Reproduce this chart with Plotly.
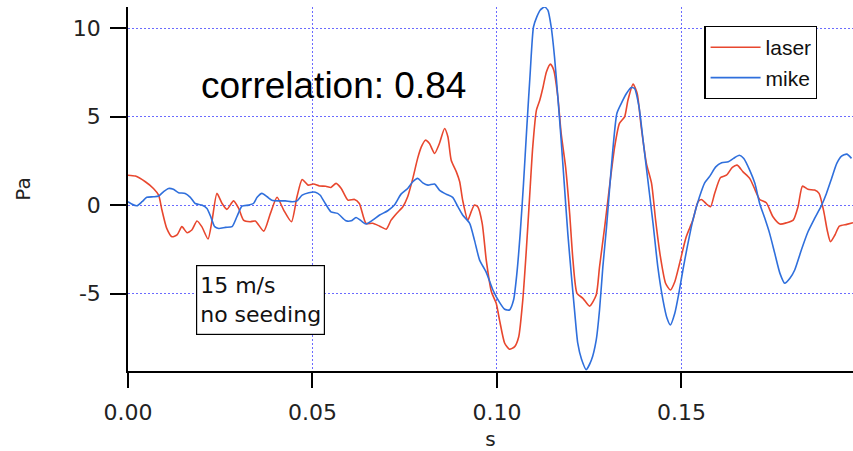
import plotly.graph_objects as go

# ---- data (time in s, pressure in Pa) ----
laser_t = [0.0000, 0.0020, 0.0047, 0.0069, 0.0083, 0.0092, 0.0105, 0.0119, 0.0133, 0.0146,
           0.0160, 0.0173, 0.0187, 0.0200, 0.0217, 0.0228, 0.0241, 0.0255, 0.0268, 0.0286,
           0.0300, 0.0313, 0.0331, 0.0345, 0.0368, 0.0386, 0.0404, 0.0422, 0.0443, 0.0458,
           0.0472, 0.0488, 0.0503, 0.0519, 0.0536, 0.0550, 0.0564, 0.0578, 0.0596, 0.0614,
           0.0627, 0.0645, 0.0663, 0.0682, 0.0700, 0.0713, 0.0728, 0.0745, 0.0758, 0.0772,
           0.0785, 0.0795, 0.0806, 0.0817, 0.0831, 0.0844, 0.0858, 0.0867, 0.0876, 0.0890,
           0.0899, 0.0907, 0.0921, 0.0930, 0.0939, 0.0948, 0.0960, 0.0971, 0.0985, 0.0998,
           0.1007, 0.1021, 0.1034, 0.1048, 0.1059, 0.1070, 0.1079, 0.1088, 0.1097, 0.1107,
           0.1116, 0.1125, 0.1134, 0.1145, 0.1154, 0.1165, 0.1174, 0.1186, 0.1197, 0.1206,
           0.1217, 0.1233, 0.1251, 0.1269, 0.1278, 0.1292, 0.1305, 0.1319, 0.1332, 0.1346,
           0.1355, 0.1369, 0.1380, 0.1391, 0.1405, 0.1419, 0.1430, 0.1443, 0.1457, 0.1470,
           0.1482, 0.1495, 0.1513, 0.1531, 0.1545, 0.1554, 0.1568, 0.1579, 0.1590, 0.1606,
           0.1622, 0.1638, 0.1651, 0.1667, 0.1685, 0.1699, 0.1712, 0.1730, 0.1748, 0.1767,
           0.1785, 0.1803, 0.1816, 0.1828, 0.1843, 0.1861, 0.1873, 0.1886, 0.1895, 0.1904,
           0.1916, 0.1928, 0.1948, 0.1965]
laser_pa = [1.69, 1.64, 1.32, 0.94, 0.56, -0.28, -1.32, -1.79, -1.69, -1.22,
            -1.56, -1.41, -0.90, -1.22, -1.92, -0.85, 0.66, 0.09, -0.24, 0.24,
            -0.19, -0.85, -0.94, -0.90, -1.47, -0.47, 0.44, -0.28, -0.94, 0.47,
            1.45, 1.13, 1.19, 1.08, 1.07, 1.00, 1.23, 0.94, 0.28, 0.32,
            0.09, -1.03, -1.03, -1.19, -1.36, -0.85, -0.47, -0.09, 0.47, 1.51,
            2.64, 3.29, 3.67, 3.48, 2.92, 3.48, 4.33, 3.86, 2.54, 1.88,
            1.32, 0.28, -0.85, -0.38, 0.00, -0.09, -1.03, -3.11, -4.90, -5.55,
            -6.50, -7.81, -8.15, -8.00, -7.44, -5.37, -2.73, 0.28, 3.29, 5.37,
            5.93, 6.68, 7.53, 7.97, 7.63, 6.12, 4.05, 2.16, -0.47, -3.11,
            -4.99, -5.27, -5.71, -5.08, -3.49, -1.23, 1.03, 3.29, 4.62, 4.99,
            5.93, 6.84, 6.31, 4.42, 2.36, 1.23, -0.85, -2.92, -4.42, -4.80,
            -4.33, -3.30, -1.79, -0.85, 0.19, 0.32, 0.06, -0.09, 0.66, 1.56,
            1.69, 2.13, 2.26, 1.88, 1.51, 0.89, 0.32, 0.13, -0.66, -1.07,
            -1.00, -0.85, -0.09, 1.07, 0.89, 0.85, 0.66, -0.38, -1.41, -2.07,
            -1.69, -1.19, -1.09, -1.00]

mike_t = [0.0000, 0.0010, 0.0024, 0.0038, 0.0051, 0.0069, 0.0083, 0.0096, 0.0110, 0.0123,
          0.0137, 0.0155, 0.0169, 0.0182, 0.0200, 0.0214, 0.0226, 0.0235, 0.0246, 0.0264,
          0.0282, 0.0295, 0.0309, 0.0327, 0.0340, 0.0350, 0.0363, 0.0377, 0.0390, 0.0408,
          0.0426, 0.0445, 0.0458, 0.0472, 0.0490, 0.0508, 0.0521, 0.0533, 0.0550, 0.0568,
          0.0591, 0.0605, 0.0618, 0.0632, 0.0645, 0.0663, 0.0682, 0.0704, 0.0722, 0.0740,
          0.0758, 0.0772, 0.0785, 0.0799, 0.0813, 0.0831, 0.0844, 0.0862, 0.0880, 0.0894,
          0.0907, 0.0926, 0.0939, 0.0953, 0.0971, 0.0989, 0.1007, 0.1021, 0.1034, 0.1045,
          0.1054, 0.1063, 0.1072, 0.1081, 0.1090, 0.1099, 0.1108, 0.1117, 0.1129, 0.1138,
          0.1147, 0.1156, 0.1165, 0.1174, 0.1183, 0.1192, 0.1202, 0.1211, 0.1219, 0.1229,
          0.1242, 0.1256, 0.1269, 0.1278, 0.1287, 0.1297, 0.1305, 0.1314, 0.1325, 0.1337,
          0.1351, 0.1364, 0.1373, 0.1385, 0.1396, 0.1409, 0.1423, 0.1436, 0.1450, 0.1461,
          0.1470, 0.1482, 0.1493, 0.1504, 0.1515, 0.1531, 0.1549, 0.1563, 0.1577, 0.1593,
          0.1609, 0.1627, 0.1641, 0.1657, 0.1669, 0.1685, 0.1699, 0.1712, 0.1726, 0.1739,
          0.1753, 0.1767, 0.1780, 0.1794, 0.1807, 0.1825, 0.1843, 0.1861, 0.1880, 0.1893,
          0.1907, 0.1921, 0.1934, 0.1948, 0.1961]
mike_pa = [0.19, 0.06, -0.04, 0.19, 0.44, 0.47, 0.51, 0.75, 0.94, 0.89,
           0.70, 0.66, 0.44, 0.09, 0.00, -0.19, -0.75, -1.22, -1.32, -1.26,
           -1.22, -0.66, -0.06, 0.00, 0.09, 0.44, 0.66, 0.47, 0.28, 0.24,
           0.24, 0.19, 0.24, 0.56, 0.70, 0.73, 0.56, 0.15, -0.38, -0.47,
           -0.89, -0.89, -0.70, -0.89, -1.07, -0.85, -0.56, -0.32, 0.00, 0.62,
           0.94, 1.32, 1.51, 1.26, 1.13, 1.19, 0.85, 0.62, 0.44, -0.09,
           -0.56, -1.03, -1.98, -3.11, -3.80, -4.80, -5.50, -5.89, -5.93, -5.37,
           -3.86, -1.60, 1.23, 4.42, 7.44, 10.07, 10.64, 11.02, 11.20, 11.02,
           10.07, 8.38, 6.12, 3.67, 1.03, -1.60, -4.05, -6.12, -7.81, -8.70,
           -9.30, -8.76, -7.63, -5.93, -3.49, -1.23, 0.85, 3.11, 5.18, 5.75,
           6.31, 6.65, 6.59, 5.55, 3.67, 1.41, -1.03, -3.49, -5.37, -6.40,
           -6.78, -6.12, -4.99, -3.67, -2.45, -0.85, 0.47, 1.26, 1.64, 2.16,
           2.39, 2.45, 2.64, 2.82, 2.64, 1.98, 1.23, 0.09, -0.75, -1.60,
           -2.73, -3.86, -4.42, -4.14, -3.67, -2.54, -1.51, -0.75, 0.00, 0.66,
           1.51, 2.36, 2.77, 2.88, 2.64]

x_tickvals = [0.00, 0.05, 0.10, 0.15]
x_ticktext = ["0.00", "0.05", "0.10", "0.15"]
y_tickvals = [-5, 0, 5, 10]
y_ticktext = ["-5", "0", "5", "10"]

correlation_text = "correlation: 0.84"
condition_text = "15 m/s<br>no seeding"

RED = "#e8472e"
BLUE = "#2f6fdc"
GRID = "#6b6bff"
TICKFONT = dict(family="DejaVu Sans", size=22, color="#222222")

fig = go.Figure()
fig.add_trace(go.Scatter(x=laser_t, y=laser_pa, mode="lines", name="laser",
                         line=dict(color=RED, width=1.6, shape="spline", smoothing=0.6)))
fig.add_trace(go.Scatter(x=mike_t, y=mike_pa, mode="lines", name="mike",
                         line=dict(color=BLUE, width=1.6, shape="spline", smoothing=0.6)))

fig.update_layout(
    width=853, height=451,
    margin=dict(l=128, r=0, t=7, b=80, autoexpand=False),
    paper_bgcolor="white", plot_bgcolor="white",
    showlegend=True,
    legend=dict(x=0.795, y=0.948, xanchor="left", yanchor="top",
                bordercolor="black", borderwidth=1.2, bgcolor="white",
                font=dict(family="Liberation Sans", size=21, color="#111111"),
                itemwidth=50, tracegroupgap=0),
    xaxis=dict(range=[0.0, 0.1965], tickvals=x_tickvals, ticktext=x_ticktext,
               automargin=False,
               showgrid=True, gridcolor=GRID, gridwidth=1, griddash="2px,2px",
               zeroline=False, showline=True, linecolor="black", linewidth=1.5,
               ticks="outside", ticklen=15, tickwidth=1.5, tickcolor="black",
               tickfont=TICKFONT, ticklabelstandoff=6,
               title=dict(text="s", font=dict(family="DejaVu Sans", size=20, color="#222222"),
                          standoff=8)),
    yaxis=dict(range=[-9.38, 11.2], tickvals=y_tickvals, ticktext=y_ticktext,
               automargin=False,
               showgrid=True, gridcolor=GRID, gridwidth=1, griddash="2px,2px",
               zeroline=False, showline=True, linecolor="black", linewidth=1.5,
               ticks="outside", ticklen=16, tickwidth=1.5, tickcolor="black",
               tickfont=TICKFONT, ticklabelstandoff=5,
               title=dict(text="Pa", font=dict(family="DejaVu Sans", size=20, color="#222222"),
                          standoff=37)),
)

fig.add_annotation(x=0.0558, y=6.75, xref="x", yref="y", text=correlation_text,
                   showarrow=False, xanchor="center", yanchor="middle",
                   font=dict(family="Liberation Sans", size=37, color="black"))

fig.add_annotation(x=0.0359, y=-5.38, xref="x", yref="y", text=condition_text,
                   showarrow=False, xanchor="center", yanchor="middle", align="left",
                   height=62, valign="middle",
                   bordercolor="black", borderwidth=1.2, borderpad=3, bgcolor="white",
                   font=dict(family="DejaVu Sans", size=22, color="#111111"))

fig.write_html("out.html", config={"displayModeBar": False},
               post_script="document.body.style.margin='0';document.body.style.padding='0';")
